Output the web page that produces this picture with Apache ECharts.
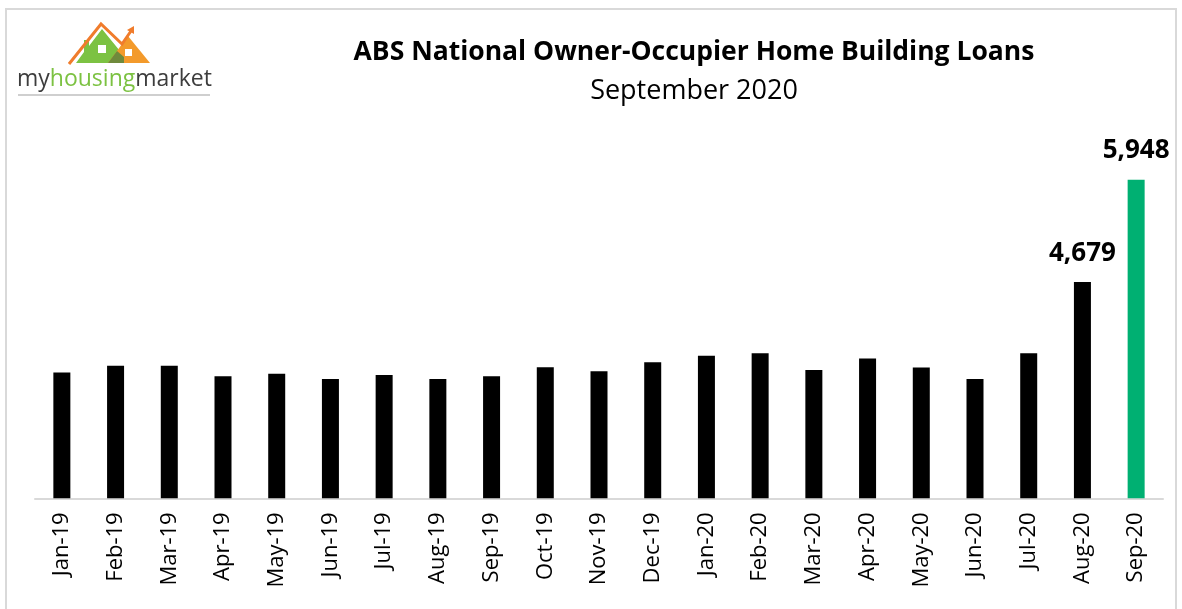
<!DOCTYPE html>
<html>
<head>
<meta charset="utf-8">
<script src="https://cdn.jsdelivr.net/npm/echarts@6/dist/echarts.min.js"></script>
<style>
  html, body { margin: 0; padding: 0; background: #fff; }
  #chart { width: 1182px; height: 609px; }
</style>
</head>
<body>
<div id="chart"></div>
<script>
// 月份
const months = ['Jan-19', 'Feb-19', 'Mar-19', 'Apr-19', 'May-19', 'Jun-19', 'Jul-19',
  'Aug-19', 'Sep-19', 'Oct-19', 'Nov-19', 'Dec-19', 'Jan-20', 'Feb-20', 'Mar-20',
  'Apr-20', 'May-20', 'Jun-20', 'Jul-20', 'Aug-20', 'Sep-20'];
// 自住房建房贷款数量 (last two labelled)
const loans = [3558, 3641, 3641, 3512, 3542, 3479, 3529, 3479, 3512, 3624, 3574,
  3686, 3765, 3798, 3589, 3732, 3620, 3479, 3798, 4679, 5948];
const labelledMonths = ['Aug-20', 'Sep-20'];
const highlightMonth = 'Sep-20';

const titleText = 'ABS National Owner-Occupier Home Building Loans';
const subtitleText = 'September 2020';

const chart = echarts.init(document.getElementById('chart'));

const seriesData = loans.map(function (v, i) {
  return {
    value: v,
    itemStyle: { color: months[i] === highlightMonth ? '#00b072' : '#000000' },
    label: { show: labelledMonths.indexOf(months[i]) > -1 }
  };
});

const option = {
  animation: false,
  textStyle: { fontFamily: 'Open Sans' },
  grid: { left: 35, right: 19, top: 175.5, bottom: 110.7 },
  xAxis: {
    type: 'category',
    data: months,
    axisLine: { lineStyle: { color: '#d9d9d9', width: 2 } },
    axisTick: { show: false },
    axisLabel: { rotate: 90, fontSize: 22, color: '#000', margin: 14, fontFamily: 'Open Sans' }
  },
  yAxis: {
    type: 'value',
    min: 2000,
    max: 6000,
    show: false
  },
  series: [{
    type: 'bar',
    barWidth: 17,
    data: seriesData,
    label: {
      position: 'top',
      distance: 16,
      fontSize: 26,
      fontWeight: 'bold',
      color: '#000',
      fontFamily: 'Open Sans',
      formatter: function (p) { return p.value.toLocaleString('en-US'); }
    }
  }],
  graphic: [
    // 边框
    { type: 'rect', shape: { x: 6, y: 9, width: 1170, height: 620 },
      style: { fill: 'none', stroke: '#d9d9d9', lineWidth: 2 }, silent: true },
    // 标题
    { type: 'text', x: 694, y: 52,
      style: { text: titleText, textAlign: 'center', textVerticalAlign: 'middle',
        font: 'bold 26.5px "Open Sans"', fill: '#000' } },
    { type: 'text', x: 694, y: 91,
      style: { text: subtitleText, textAlign: 'center', textVerticalAlign: 'middle',
        font: '27px "Open Sans"', fill: '#000' } },
    // logo
    { type: 'polygon', shape: { points: [[76, 63], [84, 52], [84, 40], [89, 40], [89, 46], [102, 29], [124, 56], [124, 63]] },
      style: { fill: '#7cc242' } },
    { type: 'polygon', shape: { points: [[108, 63], [128, 36], [150, 63]] },
      style: { fill: '#f39a2b' } },
    { type: 'polygon', shape: { points: [[108, 63], [117, 51], [124, 57], [124, 63]] },
      style: { fill: '#6f8a3c' } },
    { type: 'polyline', shape: { points: [[69, 64], [101, 24], [122, 44], [131, 31]] },
      style: { stroke: '#f07c2c', lineWidth: 3, fill: 'none' } },
    { type: 'polygon', shape: { points: [[127, 30], [134, 26], [134, 34]] },
      style: { fill: '#f07c2c' } },
    { type: 'rect', shape: { x: 98, y: 45, width: 8, height: 8 }, style: { fill: '#fff' } },
    { type: 'rect', shape: { x: 125, y: 49, width: 7, height: 7 }, style: { fill: '#fff' } },
    { type: 'text', x: 17, y: 79,
      style: { text: '{a|my}{b|housing}{a|market}', textVerticalAlign: 'middle',
        rich: {
          a: { fill: '#3d3d3d', fontSize: 23, fontFamily: 'Open Sans' },
          b: { fill: '#7cc242', fontSize: 23, fontFamily: 'Open Sans' }
        } } },
    { type: 'line', shape: { x1: 18, y1: 95, x2: 210, y2: 95 },
      style: { stroke: '#cfcfcf', lineWidth: 2 } }
  ]
};

chart.setOption(option);
</script>
</body>
</html>
